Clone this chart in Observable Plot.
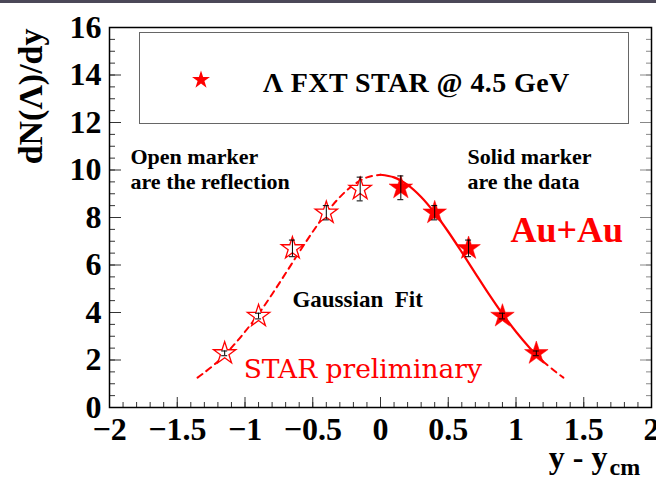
<!DOCTYPE html>
<html><head><meta charset="utf-8">
<script src="https://cdn.jsdelivr.net/npm/d3@7"></script>
<script src="https://cdn.jsdelivr.net/npm/@observablehq/plot@0.6"></script>
<style>
body{margin:0;background:#fff;}
#wrap{position:relative;width:656px;height:480px;overflow:hidden;background:#fff;}
#topbar{position:absolute;left:0;top:0;width:656px;height:3px;background:#4b4858;}
#legend{position:absolute;left:139px;top:32px;width:490px;height:92px;border:1.3px solid #666;box-sizing:border-box;background:#fff;font-family:"Liberation Serif",serif;font-weight:bold;font-size:28px;}
#legend svg{position:absolute;left:49px;top:35px;}
#legend .lt{position:absolute;left:123px;top:36px;line-height:1;white-space:pre;letter-spacing:0.4px;}
</style></head>
<body>
<div id="wrap"><div id="chart"></div><div id="topbar"></div>
<div id="legend"><svg width="24" height="24"><path id="lstar" fill="#ff0000" transform="translate(12,12)"></path></svg><span class="lt">Λ FXT STAR @ 4.5 GeV</span></div>
</div>
<script>
// Measured data (solid markers)
const dataX = [0.15, 0.4, 0.65, 0.9, 1.15];
const dataY = [9.25, 8.2, 6.7, 3.85, 2.28];
const dataErr = [0.5, 0.3, 0.35, 0.12, 0.1];
// Reflected points (open markers)
const reflX = [-0.15, -0.4, -0.65, -0.9, -1.15];
const reflY = [9.2, 8.2, 6.7, 3.85, 2.28];
const reflErr = [0.5, 0.3, 0.35, 0.12, 0.1];
// Gaussian fit curve
const fitX = [-1.35,-1.3,-1.2,-1.1,-1.0,-0.9,-0.8,-0.7,-0.6,-0.5,-0.4,-0.3,-0.2,-0.1,0,0.1,0.2,0.3,0.4,0.5,0.6,0.7,0.8,0.9,1.0,1.1,1.2,1.3,1.35];
const fitY = [1.26,1.47,1.94,2.52,3.19,3.94,4.77,5.65,6.54,7.40,8.19,8.86,9.37,9.69,9.80,9.69,9.37,8.86,8.19,7.40,6.54,5.65,4.77,3.94,3.19,2.52,1.94,1.47,1.26];
// Axis ticks
const xMajor = [-2,-1.5,-1,-0.5,0,0.5,1,1.5,2];
const yMajor = [0,2,4,6,8,10,12,14,16];

const pts = dataX.map((x,i)=>({x, y:dataY[i], e:dataErr[i]}));
const refl = reflX.map((x,i)=>({x, y:reflY[i], e:reflErr[i]}));
const fit = fitX.map((x,i)=>({x, y:fitY[i]}));
const xMinor = d3.range(-20,21).map(d=>d/10);
const yMinor = d3.range(0,33).map(d=>d/2);
const fmt = d => (d<0?"\u2212":"") + Math.abs(d);
const RED = "#ff0000";
const TF = "Liberation Serif, Times New Roman, serif";

const errMarks = (arr) => [
  Plot.ruleX(arr, {x:"x", y1:d=>d.y-d.e, y2:d=>d.y+d.e, stroke:"black", strokeWidth:1}),
  Plot.ruleY(arr, {y:d=>d.y+d.e, x1:"x", x2:"x", insetLeft:-3, insetRight:-3, stroke:"black", strokeWidth:1}),
  Plot.ruleY(arr, {y:d=>d.y-d.e, x1:"x", x2:"x", insetLeft:-3, insetRight:-3, stroke:"black", strokeWidth:1})
];

const chart = Plot.plot({
  width:656, height:480,
  marginLeft:109, marginRight:5, marginTop:27, marginBottom:73,
  x:{domain:[-2,2]}, y:{domain:[0,16]},
  style:{background:"transparent"},
  marks:[
    // ticks (inward)
    Plot.axisX({ticks:xMinor, tickSize:-5, text:null, label:null, stroke:"#333"}),
    Plot.axisX({ticks:xMajor, tickSize:-10, text:null, label:null, stroke:"#333"}),
    Plot.axisY({ticks:yMinor, tickSize:-6, text:null, label:null, stroke:"#333"}),
    Plot.axisY({ticks:yMajor, tickSize:-12, text:null, label:null, stroke:"#333"}),
    Plot.axisY({anchor:"right", ticks:yMinor, tickSize:-6, text:null, label:null, stroke:"#888"}),
    Plot.axisY({anchor:"right", ticks:yMajor, tickSize:-12, text:null, label:null, stroke:"#888"}),
    // tick labels
    Plot.axisX({ticks:xMajor, tickSize:0, tickPadding:10, tickFormat:fmt, fontSize:32, fontWeight:"bold", fontFamily:TF, fill:"black", label:null}),
    Plot.axisY({ticks:yMajor, tickSize:0, tickPadding:8, tickFormat:fmt, fontSize:32, fontWeight:"bold", fontFamily:TF, fill:"black", label:null}),
    // axis titles
    Plot.text(["dN(\u039B)/dy"], {frameAnchor:"top-left", dx:-78, dy:1, rotate:-90, textAnchor:"end", lineAnchor:"middle", fontSize:34, fontWeight:"bold", fontFamily:TF, fill:"black"}),
    Plot.text(["y - y"], {frameAnchor:"bottom-right", dx:-44, dy:50, textAnchor:"end", lineAnchor:"middle", fontSize:32, fontWeight:"bold", fontFamily:TF, fill:"black"}),
    Plot.text(["cm"], {frameAnchor:"bottom-right", dx:-42, dy:60, textAnchor:"start", lineAnchor:"middle", fontSize:24, fontWeight:"bold", fontFamily:TF, fill:"black"}),
    // fit curve
    Plot.line(fit, {x:"x", y:"y", filter:d=>d.x<=0, stroke:RED, strokeWidth:2, strokeDasharray:"6,5", curve:"catmull-rom"}),
    Plot.line(fit, {x:"x", y:"y", filter:d=>d.x>=1.2, stroke:RED, strokeWidth:2, strokeDasharray:"6,5", curve:"catmull-rom"}),
    Plot.line(fit, {x:"x", y:"y", filter:d=>d.x>=0 && d.x<=1.2, stroke:RED, strokeWidth:2.2, curve:"catmull-rom"}),
    // markers
    Plot.dot(refl, {x:"x", y:"y", symbol:"star", r:7, fill:"white", stroke:RED, strokeWidth:1.3}),
    Plot.dot(pts, {x:"x", y:"y", symbol:"star", r:7.4, fill:RED, stroke:RED, strokeWidth:0.5}),
    ...errMarks(refl), ...errMarks(pts),
    // annotations
    Plot.text(["Open marker\nare the reflection"], {x:-1.845, y:10.08, textAnchor:"start", lineAnchor:"middle", lineHeight:1.14, fontSize:22, fontWeight:"bold", fontFamily:TF, fill:"black"}),
    Plot.text(["Solid marker\nare the data"], {x:0.642, y:10.08, textAnchor:"start", lineAnchor:"middle", lineHeight:1.14, fontSize:22, fontWeight:"bold", fontFamily:TF, fill:"black"}),
    Plot.text(["Au+Au"], {x:0.96, y:7.45, textAnchor:"start", lineAnchor:"middle", fontSize:36, fontWeight:"bold", fontFamily:TF, fill:RED}),
    Plot.text(["Gaussian\u00a0\u00a0Fit"], {x:-0.65, y:4.55, textAnchor:"start", lineAnchor:"middle", fontSize:23, fontWeight:"bold", fontFamily:TF, fill:"black"}),
    Plot.text(["STAR preliminary"], {x:-1.01, y:1.6, textAnchor:"start", lineAnchor:"middle", fontSize:26.5, fontFamily:"DejaVu Serif, serif", fill:RED}),
    Plot.frame({stroke:"black", strokeWidth:1.5})
  ]
});
document.getElementById("chart").appendChild(chart);
document.getElementById("lstar").setAttribute("d", d3.symbol(d3.symbolStar, 100)());
</script>
</body></html>
